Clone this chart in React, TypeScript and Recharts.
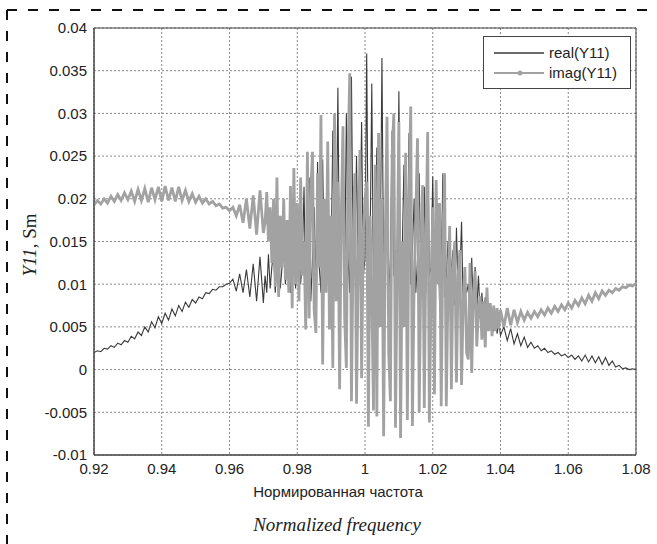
import { LineChart, Line, XAxis, YAxis, CartesianGrid, ReferenceArea } from 'recharts';

// normalized frequency grid (finer in the resonance zone)
const freqLow = [
  0.92, 0.921, 0.922, 0.923, 0.924, 0.925, 0.926, 0.927, 0.928, 0.929,
  0.93, 0.931, 0.932, 0.933, 0.934, 0.935, 0.936, 0.937, 0.938, 0.939,
  0.94, 0.941, 0.942, 0.943, 0.944, 0.945, 0.946, 0.947, 0.948, 0.949,
  0.95, 0.951, 0.952, 0.953, 0.954, 0.955, 0.956, 0.957, 0.958, 0.959,
  0.96, 0.961, 0.962, 0.963, 0.964, 0.965, 0.966, 0.967, 0.968, 0.969,
  0.97,
];
const freqMid = [
  0.9705, 0.971, 0.9715, 0.972, 0.9725, 0.973, 0.9735, 0.974, 0.9745, 0.975, 0.9755, 0.976, 0.9765, 0.977, 0.9775, 0.978, 0.9785, 0.979, 0.9795, 0.98,
  0.9805, 0.981, 0.9815, 0.982, 0.9825, 0.983, 0.9835, 0.984, 0.9845, 0.985, 0.9855, 0.986, 0.9865, 0.987, 0.9875, 0.988, 0.9885, 0.989, 0.9895, 0.99,
  0.9905, 0.991, 0.9915, 0.992, 0.9925, 0.993, 0.9935, 0.994, 0.9945, 0.995, 0.9955, 0.996, 0.9965, 0.997, 0.9975, 0.998, 0.9985, 0.999, 0.9995, 1.0,
  1.0005, 1.001, 1.0015, 1.002, 1.0025, 1.003, 1.0035, 1.004, 1.0045, 1.005, 1.0055, 1.006, 1.0065, 1.007, 1.0075, 1.008, 1.0085, 1.009, 1.0095, 1.01,
  1.0105, 1.011, 1.0115, 1.012, 1.0125, 1.013, 1.0135, 1.014, 1.0145, 1.015, 1.0155, 1.016, 1.0165, 1.017, 1.0175, 1.018, 1.0185, 1.019, 1.0195, 1.02,
  1.0205, 1.021, 1.0215, 1.022, 1.0225, 1.023, 1.0235, 1.024, 1.0245, 1.025, 1.0255, 1.026, 1.0265, 1.027, 1.0275, 1.028, 1.0285, 1.029, 1.0295, 1.03,
  1.0305, 1.031, 1.0315, 1.032, 1.0325, 1.033, 1.0335, 1.034, 1.0345, 1.035, 1.0355, 1.036, 1.0365, 1.037, 1.0375, 1.038, 1.0385, 1.039, 1.0395, 1.04,
];
const freqHigh = [
  1.041, 1.042, 1.043, 1.044, 1.045, 1.046, 1.047, 1.048, 1.049, 1.05,
  1.051, 1.052, 1.053, 1.054, 1.055, 1.056, 1.057, 1.058, 1.059, 1.06,
  1.061, 1.062, 1.063, 1.064, 1.065, 1.066, 1.067, 1.068, 1.069, 1.07,
  1.071, 1.072, 1.073, 1.074, 1.075, 1.076, 1.077, 1.078, 1.079, 1.08,
];

// real(Y11), Sm
const realLow = [
  0.0020, 0.0022, 0.0021, 0.0025, 0.0024, 0.0028, 0.0026, 0.0031, 0.0029, 0.0034,
  0.0032, 0.0039, 0.0036, 0.0044, 0.0040, 0.0050, 0.0044, 0.0056, 0.0049, 0.0062,
  0.0054, 0.0066, 0.0058, 0.0071, 0.0063, 0.0075, 0.0068, 0.0079, 0.0073, 0.0082,
  0.0078, 0.0085, 0.0083, 0.0090, 0.0089, 0.0094, 0.0093, 0.0097, 0.0097, 0.0100,
  0.0101, 0.0106, 0.0092, 0.0112, 0.0090, 0.0117, 0.0085, 0.0124, 0.0080, 0.0132,
  0.0078,
];
const realMid = [
  0.0110, 0.0090, 0.0135, 0.0095, 0.0120, 0.0140, 0.0090, 0.0125, 0.0138, 0.0095, 0.0120, 0.0145, 0.0100, 0.0125, 0.0150, 0.0090, 0.0130, 0.0160, 0.0095, 0.0120,
  0.0180, 0.0100, 0.0130, 0.0214, 0.0090, 0.0140, 0.0225, 0.0080, 0.0130, 0.0190, 0.0100, 0.0243, 0.0120, 0.0090, 0.0246, 0.0110, 0.0140, 0.0260, 0.0090, 0.0130,
  0.0280, 0.0100, 0.0140, 0.0330, 0.0090, 0.0150, 0.0257, 0.0110, 0.0300, 0.0130, 0.0090, 0.0343, 0.0120, 0.0140, 0.0250, 0.0100, 0.0150, 0.0290, 0.0110, 0.0130,
  0.0370, 0.0110, 0.0140, 0.0335, 0.0090, 0.0140, 0.0260, 0.0100, 0.0130, 0.0365, 0.0110, 0.0150, 0.0240, 0.0090, 0.0130, 0.0280, 0.0110, 0.0140, 0.0100, 0.0326,
  0.0100, 0.0140, 0.0240, 0.0090, 0.0130, 0.0277, 0.0100, 0.0140, 0.0200, 0.0090, 0.0130, 0.0230, 0.0100, 0.0120, 0.0214, 0.0090, 0.0278, 0.0110, 0.0120, 0.0226,
  0.0090, 0.0130, 0.0195, 0.0080, 0.0120, 0.0230, 0.0085, 0.0110, 0.0150, 0.0080, 0.0120, 0.0140, 0.0075, 0.0166, 0.0090, 0.0110, 0.0173, 0.0070, 0.0100, 0.0090,
  0.0100, 0.0070, 0.0131, 0.0065, 0.0120, 0.0070, 0.0110, 0.0060, 0.0090, 0.0060, 0.0085, 0.0052, 0.0075, 0.0052, 0.0070, 0.0045, 0.0062, 0.0042, 0.0055, 0.0040,
];
const realHigh = [
  0.0050, 0.0034, 0.0048, 0.0030, 0.0042, 0.0028, 0.0038, 0.0026, 0.0032, 0.0025,
  0.0028, 0.0022, 0.0025, 0.0020, 0.0022, 0.0018, 0.0020, 0.0016, 0.0018, 0.0014,
  0.0017, 0.0012, 0.0016, 0.0010, 0.0017, 0.0009, 0.0016, 0.0008, 0.0015, 0.0006,
  0.0014, 0.0005, 0.0010, 0.0003, 0.0005, 0.0001, 0.0002, 0.0000, 0.0001, 0.0000,
];

// imag(Y11), Sm
const imagLow = [
  0.0193, 0.0198, 0.0194, 0.0200, 0.0195, 0.0203, 0.0197, 0.0205, 0.0198, 0.0207,
  0.0199, 0.0209, 0.0197, 0.0211, 0.0198, 0.0212, 0.0196, 0.0213, 0.0199, 0.0214,
  0.0197, 0.0215, 0.0198, 0.0213, 0.0197, 0.0214, 0.0198, 0.0210, 0.0197, 0.0206,
  0.0196, 0.0203, 0.0195, 0.0200, 0.0194, 0.0197, 0.0192, 0.0194, 0.0189, 0.0190,
  0.0186, 0.0190, 0.0180, 0.0193, 0.0172, 0.0200, 0.0165, 0.0204, 0.0158, 0.0210,
  0.0160,
];
const imagMid = [
  0.0172, 0.0208, 0.0150, 0.0190, 0.0125, 0.0200, 0.0097, 0.0225, 0.0085, 0.0180, 0.0120, 0.0200, 0.0105, 0.0175, 0.0090, 0.0215, 0.0072, 0.0236, 0.0100, 0.0195,
  0.0080, 0.0225, 0.0110, 0.0150, 0.0047, 0.0255, 0.0060, 0.0210, 0.0255, 0.0070, 0.0043, 0.0230, 0.0120, 0.0298, 0.0006, 0.0200, 0.0090, 0.0267, 0.0047, 0.0180,
  0.0002, 0.0300, 0.0080, 0.0220, -0.0023, 0.0180, 0.0285, 0.0060, 0.0002, 0.0250, 0.0347, -0.0037, 0.0150, 0.0230, -0.0040, 0.0120, 0.0257, -0.0010, 0.0160, 0.0200,
  0.0220, -0.0067, 0.0180, 0.0090, -0.0048, 0.0240, -0.0055, 0.0277, 0.0050, 0.0200, -0.0078, 0.0160, 0.0296, 0.0020, -0.0037, 0.0250, 0.0300, -0.0068, 0.0120, 0.0290,
  -0.0080, 0.0150, 0.0050, 0.0254, -0.0059, 0.0200, 0.0308, -0.0066, 0.0100, 0.0180, 0.0271, -0.0050, 0.0120, 0.0216, -0.0045, 0.0150, 0.0278, -0.0062, 0.0080, 0.0190,
  -0.0029, 0.0222, 0.0100, 0.0195, -0.0043, 0.0150, 0.0230, -0.0043, 0.0090, 0.0168, -0.0023, 0.0120, 0.0150, -0.0015, 0.0110, 0.0140, -0.0018, 0.0080, 0.0120, 0.0020,
  0.0012, 0.0125, -0.0004, 0.0090, 0.0115, 0.0027, 0.0070, 0.0086, 0.0035, 0.0080, 0.0026, 0.0096, 0.0045, 0.0078, 0.0039, 0.0075, 0.0045, 0.0072, 0.0048, 0.0070,
];
const imagHigh = [
  0.0050, 0.0072, 0.0052, 0.0070, 0.0055, 0.0068, 0.0058, 0.0067, 0.0060, 0.0068,
  0.0062, 0.0070, 0.0064, 0.0072, 0.0066, 0.0074, 0.0068, 0.0076, 0.0070, 0.0078,
  0.0072, 0.0081, 0.0075, 0.0084, 0.0077, 0.0087, 0.0080, 0.0090, 0.0083, 0.0092,
  0.0087, 0.0093, 0.0090, 0.0095, 0.0093, 0.0097, 0.0096, 0.0099, 0.0098, 0.0101,
];

const xTicks = [0.92, 0.94, 0.96, 0.98, 1, 1.02, 1.04, 1.06, 1.08];
const yTicks = [-0.01, -0.005, 0, 0.005, 0.01, 0.015, 0.02, 0.025, 0.03, 0.035, 0.04];

const freq = [...freqLow, ...freqMid, ...freqHigh];
const realY11 = [...realLow, ...realMid, ...realHigh];
const imagY11 = [...imagLow, ...imagMid, ...imagHigh];
const data = freq.map((f, i) => ({ f, real: realY11[i], imag: imagY11[i] }));

const sans = '"Liberation Sans", Arial, sans-serif';
const serif = '"Liberation Serif", "Times New Roman", serif';

const App = () => {
  return (
    <div style={{ position: 'fixed', left: 0, top: 0, width: 657, height: 544, background: '#fff', fontFamily: sans, overflow: 'hidden' }}>
      <LineChart width={657} height={544} data={data} margin={{ top: 28, right: 21, bottom: 59, left: 34 }}>
        <CartesianGrid stroke="#8a8a8a" strokeDasharray="2 2" />
        <XAxis
          dataKey="f"
          type="number"
          domain={[0.92, 1.08]}
          ticks={xTicks}
          allowDataOverflow
          height={30}
          tickLine={false}
          tickSize={5}
          tickMargin={3}
          axisLine={{ stroke: '#444' }}
          tick={{ fill: '#222', fontSize: 15, fontFamily: sans }}
        />
        <YAxis
          type="number"
          domain={[-0.01, 0.04]}
          ticks={yTicks}
          allowDataOverflow
          width={60}
          tickLine={false}
          tickSize={5}
          tickMargin={2}
          axisLine={{ stroke: '#444' }}
          tick={{ fill: '#222', fontSize: 15, fontFamily: sans }}
        />
        <ReferenceArea x1={0.92} x2={1.08} y1={-0.01} y2={0.04} fill="none" stroke="#444" strokeWidth={1} />
        <Line type="linear" dataKey="real" stroke="#3a3a3a" strokeWidth={1.1} dot={false} isAnimationActive={false} />
        <Line type="linear" dataKey="imag" stroke="#a2a2a2" strokeWidth={2.8} dot={false} isAnimationActive={false} />
      </LineChart>

      <svg width={657} height={544} style={{ position: 'absolute', left: 0, top: 0, pointerEvents: 'none' }}>
        <line x1={7} y1={10} x2={657} y2={10} stroke="#111" strokeWidth={2} strokeDasharray="10 11" />
        <line x1={7} y1={10} x2={7} y2={544} stroke="#111" strokeWidth={2} strokeDasharray="10 11" />
      </svg>

      <div style={{ position: 'absolute', left: 483, top: 36, width: 146, height: 51, border: '1px solid #444', background: '#fff', fontSize: 15, color: '#222' }}>
        <svg width={146} height={51} style={{ position: 'absolute', left: 0, top: 0 }}>
          <line x1={10} y1={16} x2={60} y2={16} stroke="#3a3a3a" strokeWidth={1.5} />
          <line x1={10} y1={36} x2={60} y2={36} stroke="#a2a2a2" strokeWidth={2} />
          <circle cx={36} cy={36} r={2.5} fill="#a2a2a2" />
        </svg>
        <div style={{ position: 'absolute', left: 65, top: 7, whiteSpace: 'nowrap' }}>real(Y11)</div>
        <div style={{ position: 'absolute', left: 65, top: 27, whiteSpace: 'nowrap' }}>imag(Y11)</div>
      </div>

      <div style={{ position: 'absolute', left: 30, top: 245, transform: 'translate(-50%, -50%) rotate(-90deg)', whiteSpace: 'nowrap', fontFamily: serif, fontSize: 19, color: '#222' }}>
        <i>Y11</i>, Sm
      </div>
      <div style={{ position: 'absolute', left: 338, top: 491, transform: 'translate(-50%, -50%)', whiteSpace: 'nowrap', fontSize: 15, color: '#222' }}>
        Нормированная частота
      </div>
      <div style={{ position: 'absolute', left: 337, top: 525, transform: 'translate(-50%, -50%)', whiteSpace: 'nowrap', fontFamily: serif, fontStyle: 'italic', fontSize: 19, color: '#222' }}>
        Normalized frequency
      </div>
    </div>
  );
};

export default App;
